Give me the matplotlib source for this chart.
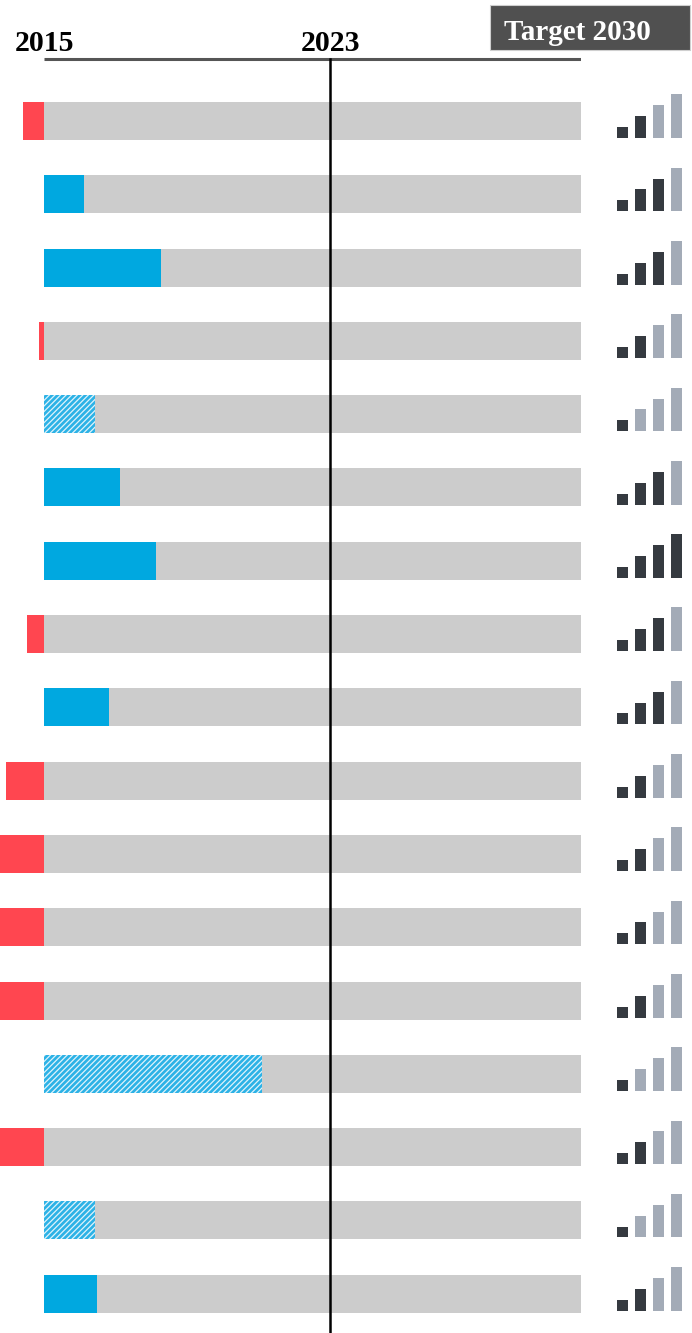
import matplotlib.pyplot as plt
from matplotlib.patches import Rectangle

plt.rcParams["hatch.linewidth"] = 0.9

# progress since 2015 in years-equivalent (negative = moving away from target)
values = [-0.59, 1.12, 3.27, -0.14, 1.43, 2.13, 3.13, -0.48, 1.82,
          -1.06, -1.5, -1.5, -1.5, 6.10, -1.5, 1.43, 1.48]
estimated = [False, False, False, False, True, False, False, False, False,
             False, False, False, False, True, False, True, False]
# number of dark bars in the signal icon (out of 4)
levels = [2, 3, 3, 2, 1, 3, 4, 3, 3, 2, 2, 2, 2, 1, 2, 1, 2]

start_year, now_year, target_year = 2015, 2023, 2030

RED = "#ff4650"
BLUE = "#00a8e0"
HATCH_BLUE = "#2cb2e6"
GRAY = "#cccccc"
DARK = "#353a40"
LIGHT = "#a3abb7"

W, H = 692, 1333
fig = plt.figure(figsize=(W / 100, H / 100), dpi=100)

# pixel layout
x_start_px, x_end_px = 44, 581
row0_px, row_step_px = 121, 73.3
px_per_year = (x_end_px - x_start_px) / (target_year - start_year)

n = len(values)
y_top = -row0_px / row_step_px
y_bot = (H - row0_px) / row_step_px
bar_h = 38 / row_step_px

ax = fig.add_axes([0, 0, x_end_px / W, 1])
ax.set_xlim(start_year - x_start_px / px_per_year, target_year)
ax.set_ylim(y_bot, y_top)
ax.axis("off")

rows = list(range(n))
ax.barh(rows, [target_year - start_year] * n, left=start_year, height=bar_h,
        color=GRAY, zorder=1)
for i, (v, est) in enumerate(zip(values, estimated)):
    if est:
        ax.barh(i, v, left=start_year, height=bar_h, color=HATCH_BLUE,
                edgecolor="#dff3fb", hatch="//////", linewidth=0, zorder=2)
    else:
        ax.barh(i, v, left=start_year, height=bar_h,
                color=RED if v < 0 else BLUE, zorder=2)

line_y = -(row0_px - 59) / row_step_px
ax.plot([start_year, target_year], [line_y, line_y], color="#555555", lw=2.2,
        solid_capstyle="butt", zorder=3)
ax.plot([now_year, now_year], [line_y, y_bot], color="black", lw=1.8, zorder=3)

txt_y = -(row0_px - 51) / row_step_px
for yr in (start_year, now_year):
    ax.text(yr, txt_y, str(yr), ha="center", va="baseline", fontsize=21.5,
            fontweight="bold", family="Liberation Serif", color="black")

# Target 2030 header box
fig.patches.append(Rectangle((490 / W, 1 - 50 / H), 200 / W, 45 / H,
                             transform=fig.transFigure, facecolor="#505050",
                             edgecolor="#cfcfcf", lw=0.8))
fig.text(577 / W, 1 - 40 / H, "Target 2030", ha="center", va="baseline",
         fontsize=21, fontweight="bold", family="Liberation Serif", color="white")

# signal icons
icon_left, icon_w = 600, W - 600
ix = fig.add_axes([icon_left / W, 0, icon_w / W, 1])
ix.set_xlim(-22.5 / 18, (icon_w - 22.5) / 18)
ix.set_ylim(y_bot, y_top)
ix.axis("off")
steps = [0, 1, 2, 3]
step_h = 10.9 / row_step_px
base_off = 17 / row_step_px
for i, lv in enumerate(levels):
    cols = [DARK if s < lv else LIGHT for s in steps]
    ix.bar(steps, [-(s + 1) * step_h for s in steps], bottom=i + base_off,
           width=11 / 18, color=cols)

fig.savefig("out.png", dpi=100)
